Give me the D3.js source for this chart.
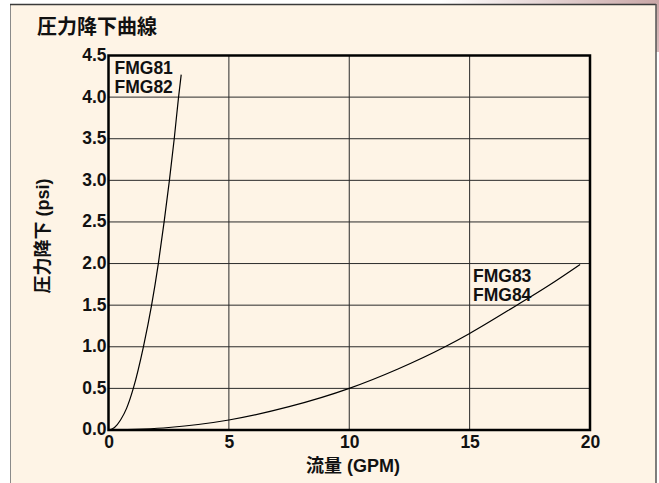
<!DOCTYPE html>
<html>
<head>
<meta charset="utf-8">
<script src="https://cdn.jsdelivr.net/npm/d3@7"></script>
<style>
  html, body { margin: 0; padding: 0; background: #ffffff; }
  svg { display: block; }
  text { font-family: "Liberation Sans", "Noto Sans CJK JP", sans-serif; font-weight: bold; fill: #111; }
</style>
</head>
<body>
<svg id="chart" width="659" height="483"></svg>
<script>
// ---- data ----
const chartTitle = "圧力降下曲線";
const xTitle = "流量 (GPM)";
const yTitle = "圧力降下 (psi)";
const xTicks = [0, 5, 10, 15, 20];
const yTicks = [0, 0.5, 1.0, 1.5, 2.0, 2.5, 3.0, 3.5, 4.0, 4.5];

// FMG81 / FMG82
const flowA = [0, 0.25, 0.5, 0.75, 1.03, 1.45, 1.79, 2.07, 2.31, 2.53, 2.73, 2.91, 3.02];
const psiA  = [0, 0.03, 0.12, 0.26, 0.5, 1.0, 1.5, 2.0, 2.5, 3.0, 3.5, 4.0, 4.27];
const labelA = ["FMG81", "FMG82"];

// FMG83 / FMG84
const flowB = [0, 2.5, 5, 7.5, 10, 12, 13.98, 15, 16.96, 18.3, 19.59];
const psiB  = [0, 0.03, 0.12, 0.28, 0.5, 0.73, 1.0, 1.16, 1.5, 1.74, 1.99];
const labelB = ["FMG83", "FMG84"];

// ---- drawing ----
const svg = d3.select("#chart");
const W = 659, H = 483;

const defs = svg.append("defs");
const g1 = defs.append("linearGradient").attr("id", "pinkTop").attr("x1", "0").attr("x2", "1").attr("y1", "0").attr("y2", "0");
g1.append("stop").attr("offset", "0").attr("stop-color", "#ffffff");
g1.append("stop").attr("offset", "1").attr("stop-color", "#c9a6a6");
const g2 = defs.append("linearGradient").attr("id", "pinkSide").attr("x1", "0").attr("x2", "0").attr("y1", "0").attr("y2", "1");
g2.append("stop").attr("offset", "0").attr("stop-color", "#c9a6a6");
g2.append("stop").attr("offset", "1").attr("stop-color", "#d8bcbc");

// pink shadow decoration at top-right
svg.append("rect").attr("x", 440).attr("y", 0).attr("width", 219).attr("height", 4).attr("fill", "url(#pinkTop)");
svg.append("rect").attr("x", 656).attr("y", 0).attr("width", 3).attr("height", 52).attr("fill", "url(#pinkSide)");

// cream panel
svg.append("rect").attr("x", 10).attr("y", 4).attr("width", 646).attr("height", 490).attr("fill", "#fef4e6");
svg.append("line").attr("x1", 10.5).attr("x2", 10.5).attr("y1", 4).attr("y2", H).attr("stroke", "#8a8a8a").attr("stroke-width", 1);
svg.append("line").attr("x1", 10).attr("x2", 656).attr("y1", 4.5).attr("y2", 4.5).attr("stroke", "#3a3a3a").attr("stroke-width", 1.5);
svg.append("line").attr("x1", 656).attr("x2", 656).attr("y1", 4).attr("y2", H).attr("stroke", "#555").attr("stroke-width", 1.5);

// title
svg.append("text").attr("x", 37).attr("y", 34).attr("font-size", 20).text(chartTitle);

const x = d3.scaleLinear().domain([0, 20]).range([108.5, 590]);
const y = d3.scaleLinear().domain([0, 4.5]).range([430, 55.5]);

// grid
const grid = svg.append("g");
grid.selectAll("line.v").data(xTicks.slice(1, -1)).join("line")
  .attr("x1", d => x(d)).attr("x2", d => x(d)).attr("y1", y(4.5)).attr("y2", y(0))
  .attr("stroke", "#2a2a2a").attr("stroke-width", 1);
grid.selectAll("line.h").data(yTicks.slice(1, -1)).join("line")
  .attr("x1", x(0)).attr("x2", x(20)).attr("y1", d => y(d)).attr("y2", d => y(d))
  .attr("stroke", "#2a2a2a").attr("stroke-width", 1);

// curves
const line = d3.line().x(d => x(d[0])).y(d => y(d[1])).curve(d3.curveMonotoneX);
svg.append("path").datum(d3.zip(flowA, psiA)).attr("d", line)
  .attr("fill", "none").attr("stroke", "#000").attr("stroke-width", 1.2);
svg.append("path").datum(d3.zip(flowB, psiB)).attr("d", line)
  .attr("fill", "none").attr("stroke", "#000").attr("stroke-width", 1.2);

// frame
svg.append("rect").attr("x", x(0)).attr("y", y(4.5)).attr("width", x(20) - x(0)).attr("height", y(0) - y(4.5))
  .attr("fill", "none").attr("stroke", "#000").attr("stroke-width", 2.5);

// axes (tick labels via d3 axes)
const xAxis = svg.append("g").attr("transform", `translate(0,${y(0)})`)
  .call(d3.axisBottom(x).tickValues(xTicks).tickSize(0).tickPadding(5).tickFormat(d3.format("d")));
xAxis.select(".domain").remove();
xAxis.selectAll("text").attr("font-size", 17.5).attr("font-family", null).attr("fill", "#111").attr("dy", "0.72em");

const yAxis = svg.append("g").attr("transform", `translate(${x(0)},0)`)
  .call(d3.axisLeft(y).tickValues(yTicks).tickSize(0).tickPadding(2).tickFormat(d3.format(".1f")));
yAxis.select(".domain").remove();
yAxis.selectAll("text").attr("font-size", 17.5).attr("font-family", null).attr("fill", "#111").attr("dy", "0.28em");

// axis titles
svg.append("text").attr("x", 353).attr("y", 472).attr("text-anchor", "middle").attr("font-size", 18).text(xTitle);
svg.append("text").attr("transform", "translate(49,236) rotate(-90)").attr("text-anchor", "middle").attr("font-size", 18).text(yTitle);

// series labels
svg.append("g").selectAll("text").data(labelA).join("text")
  .attr("x", x(0) + 6).attr("y", (d, i) => 74 + i * 19).attr("font-size", 17.5).text(d => d);
svg.append("g").selectAll("text").data(labelB).join("text")
  .attr("x", 473).attr("y", (d, i) => 282 + i * 19).attr("font-size", 17.5).text(d => d);
</script>
</body>
</html>
